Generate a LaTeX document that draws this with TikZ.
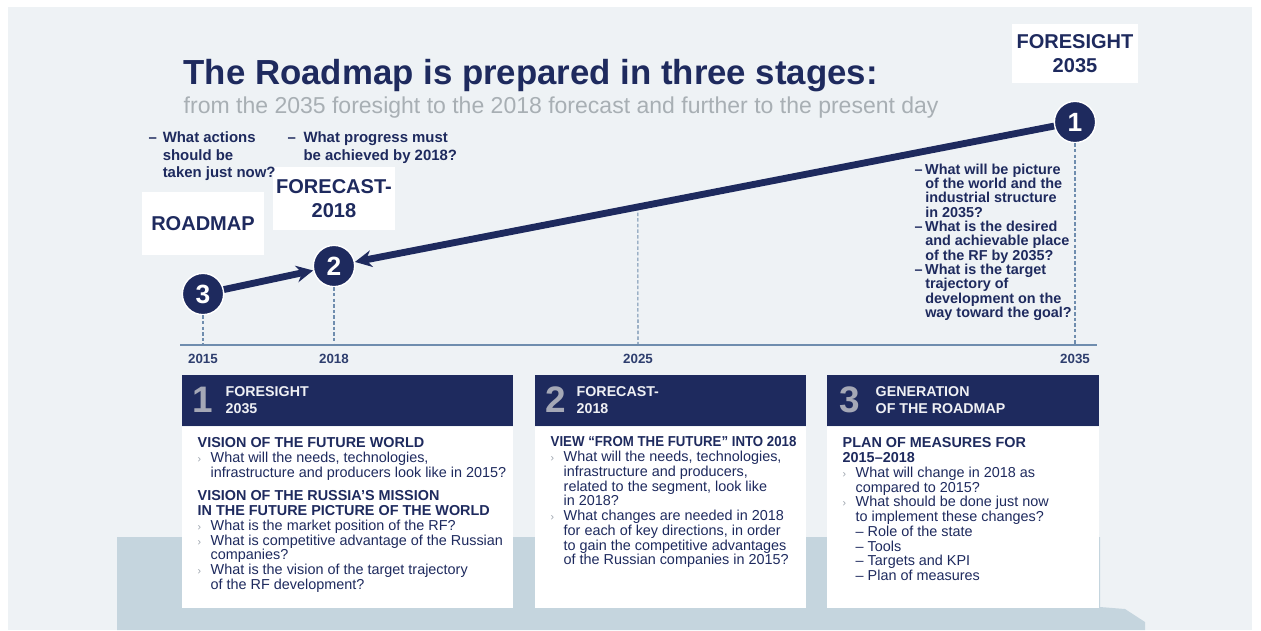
\documentclass[tikz,border=0pt]{standalone}
\usepackage{fontspec}
\setmainfont{Liberation Sans}
\newfontfamily\rmcondensed[FakeStretch=0.92]{Liberation Sans}
\usepackage{xcolor}
\usetikzlibrary{shapes,arrows,positioning,calc,arrows.meta}
\definecolor{rmnavy}{HTML}{1E2A5E}
\definecolor{rmgrey}{HTML}{A8AFB4}
\definecolor{rmsky}{HTML}{EEF2F5}
\definecolor{rmfloor}{HTML}{C5D5DE}
\definecolor{rmaxis}{HTML}{6F8DAE}
\definecolor{rmnum}{HTML}{A5A8B6}
\definecolor{rmbul}{HTML}{9AA2AC}
\newcommand{\rmbullet}{\makebox[7.4pt][l]{\textcolor{rmbul}{\fontsize{6}{6}\selectfont ›}}}
\newcommand{\rmindent}{\hspace*{7.4pt}}
\newcommand{\rmdash}[1]{\makebox[#1][l]{–}}
\tikzset{
  rm title/.style={inner sep=0pt, text=rmnavy, font=\bfseries\fontsize{19.8}{22}\selectfont},
  rm subtitle/.style={inner sep=0pt, text=rmgrey, font=\fontsize{13.1}{15}\selectfont},
  rm stage/.style={circle, fill=rmnavy, draw=white, line width=0.8pt, text=white, inner sep=0pt, minimum size=23.5pt, font=\bfseries\fontsize{15}{15}\selectfont},
  rm tag/.style={fill=white, align=center, text=rmnavy, inner sep=0pt, font=\bfseries\fontsize{11.4}{13.7}\selectfont},
  rm ask/.style={align=left, anchor=north west, inner sep=0pt, text=rmnavy, font=\bfseries\fontsize{8.5}{10}\selectfont},
  rm path/.style={draw=rmnavy, line width=3.9pt, -{Stealth[length=9.5pt, width=9.5pt]}},
  rm axis/.style={draw=rmaxis, line width=0.6pt},
  rm drop/.style={draw=rmaxis, line width=0.6pt, dashed, dash pattern=on 2pt off 1.2pt},
  rm year/.style={inner sep=0pt, text=rmnavy!80!rmaxis, font=\bfseries\fontsize{7.6}{8}\selectfont},
  rm head/.style={fill=rmnavy, inner sep=0pt, minimum height=29pt, anchor=north west},
  rm body/.style={fill=white, inner sep=0pt, minimum height=103pt},
  rm num/.style={inner sep=0pt, text=rmnum, font=\bfseries\fontsize{21}{21}\selectfont},
  rm headtext/.style={align=left, anchor=west, inner sep=0pt, text=white!93!rmnavy, font=\bfseries\fontsize{8.1}{9.8}\selectfont},
  rm text/.style={align=left, anchor=north west, inner sep=0pt, text=rmnavy, font=\fontsize{8.2}{8.4}\selectfont}
}
\begin{document}
\begin{tikzpicture}[x=0.02cm, y=-0.02cm, thick]
    \useasboundingbox (0,0) rectangle (1261,630);
    % Backdrop
    \fill[white] (0,0) rectangle (1261,630);
    \fill[rmsky] (8,7) rectangle (1252,630);
    \fill[rmfloor] (117,537) -- (1100,537) -- (1100,607) -- (1125,609) -- (1145,622) -- (1145,630) -- (117,630) -- cycle;

    % Heading
    \node[rm title, anchor=base west] (title) at (183,84) {The Roadmap is prepared in three stages:};
    \node[rm subtitle, anchor=base west] (subtitle) at (183,113) {from the 2035 foresight to the 2018 forecast and further to the present day};

    % Timeline
    \coordinate (axl) at (180,345);
    \coordinate (axr) at (1097,345);
    \coordinate (t2015) at (203,345);
    \coordinate (t2018) at (334,345);
    \coordinate (t2025) at (638,345);
    \coordinate (t2035) at (1075,345);
    \draw[rm axis] (axl) -- (axr);
    \node[rm year, below=5pt of t2015] (y2015) {2015};
    \node[rm year, below=5pt of t2018] (y2018) {2018};
    \node[rm year, below=5pt of t2025] (y2025) {2025};
    \node[rm year, below=5pt of t2035] (y2035) {2035};

    % Stages
    \node[rm stage] (s1) at (1075,122) {1};
    \node[rm stage] (s2) at (334,266) {2};
    \node[rm stage] (s3) at (203,294) {3};
    \coordinate (p2025) at ($(s2)!0.41!(s1)$);
    \draw[rm drop] (s3) -- (t2015);
    \draw[rm drop] (s2) -- (t2018);
    \draw[rm drop] (p2025) -- (t2025);
    \draw[rm drop] (s1) -- (t2035);
    \draw[rm path] (s1) -- (s2);
    \draw[rm path] (s3) -- (s2);

    % Stage tags
    \node[rm tag, minimum width=72pt, minimum height=34pt, above=9.5pt of s1] (tag1) {FORESIGHT\\2035};
    \node[rm tag, minimum width=70pt, minimum height=36pt, above=8pt of s2] (tag2) {FORECAST-\\2018};
    \node[rm tag, minimum width=70pt, minimum height=36pt, above=9.5pt of s3] (tag3) {ROADMAP};

    % Questions
    \node[rm ask] (q3) at (148,131) {\rmdash{8pt}What actions\\\hspace*{8pt}should be\\\hspace*{8pt}taken just now?};
    \node[rm ask] (q2) at (287,131) {\rmdash{9pt}What progress must\\\hspace*{9pt}be achieved by 2018?};
    \node[rm ask, font=\bfseries\fontsize{8.2}{8.15}\selectfont] (q1) at (914,163) {\rmdash{6pt}What will be picture\\\hspace*{6pt}of the world and the\\\hspace*{6pt}industrial structure\\\hspace*{6pt}in 2035?\\\rmdash{6pt}What is the desired\\\hspace*{6pt}and achievable place\\\hspace*{6pt}of the RF by 2035?\\\rmdash{6pt}What is the target\\\hspace*{6pt}trajectory of\\\hspace*{6pt}development on the\\\hspace*{6pt}way toward the goal?};

    % Panel 1
    \node[rm head, minimum width=188.3pt] (h1) at (181,374) {};
    \node[rm body, minimum width=188.3pt, below=0pt of h1] (b1) {};
    \node[rm num] (n1) at (203,400) {1};
    \node[rm headtext] (ht1) at (225,400) {FORESIGHT\\2035};
    \node[rm text] (tx1) at (197,437) {\textbf{VISION OF THE FUTURE WORLD}\\
      \rmbullet What will the needs, technologies,\\
      \rmindent infrastructure and producers look like in 2015?\\[5pt]
      \textbf{VISION OF THE RUSSIA'S MISSION}\\
      \textbf{IN THE FUTURE PICTURE OF THE WORLD}\\
      \rmbullet What is the market position of the RF?\\
      \rmbullet What is competitive advantage of the Russian\\
      \rmindent companies?\\
      \rmbullet What is the vision of the target trajectory\\
      \rmindent of the RF development?};

    % Panel 2
    \node[rm head, minimum width=154.2pt] (h2) at (534,374) {};
    \node[rm body, minimum width=154.2pt, below=0pt of h2] (b2) {};
    \node[rm num] (n2) at (556,400) {2};
    \node[rm headtext] (ht2) at (576,400) {FORECAST-\\2018};
    \node[rm text] (tx2) at (550,436) {{\rmcondensed\bfseries VIEW “FROM THE FUTURE” INTO 2018}\\
      \rmbullet What will the needs, technologies,\\
      \rmindent infrastructure and producers,\\
      \rmindent related to the segment, look like\\
      \rmindent in 2018?\\
      \rmbullet What changes are needed in 2018\\
      \rmindent for each of key directions, in order\\
      \rmindent to gain the competitive advantages\\
      \rmindent of the Russian companies in 2015?};

    % Panel 3
    \node[rm head, minimum width=154.8pt] (h3) at (826,374) {};
    \node[rm body, minimum width=154.8pt, below=0pt of h3] (b3) {};
    \node[rm num] (n3) at (850,400) {3};
    \node[rm headtext] (ht3) at (875,400) {GENERATION\\OF THE ROADMAP};
    \node[rm text] (tx3) at (842,437) {\textbf{PLAN OF MEASURES FOR}\\
      \textbf{2015–2018}\\
      \rmbullet What will change in 2018 as\\
      \rmindent compared to 2015?\\
      \rmbullet What should be done just now\\
      \rmindent to implement these changes?\\
      \rmindent – Role of the state\\
      \rmindent – Tools\\
      \rmindent – Targets and KPI\\
      \rmindent – Plan of measures};
\end{tikzpicture}
\end{document}
